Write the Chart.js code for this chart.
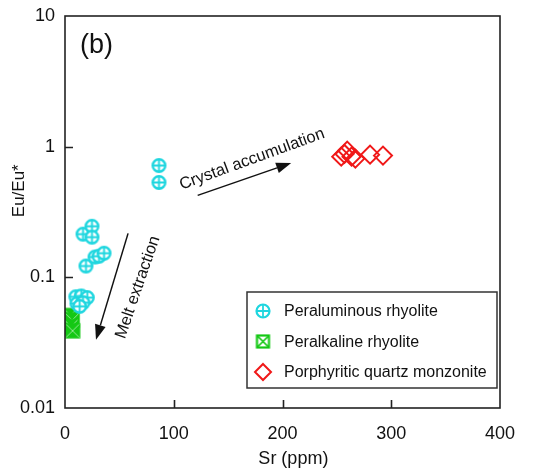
<!DOCTYPE html>
<html>
<head>
<meta charset="utf-8">
<script src="https://cdn.jsdelivr.net/npm/chart.js@4/dist/chart.umd.min.js"></script>
<style>
  html, body { margin: 0; padding: 0; background: #ffffff; }
  #wrap { width: 533px; height: 473px; }
</style>
</head>
<body>
<div id="wrap"><canvas id="c" width="533" height="473"></canvas></div>
<script>
// Sr (ppm) vs Eu/Eu* for the three rock groups
const peraluminousSr  = [86.4, 86.4, 16.6, 24.8, 24.8, 19.3, 27.6, 31.3, 35.9, 10.0, 15.0, 20.5, 11.0, 16.5, 13.5];
const peraluminousEu  = [0.717, 0.532, 0.214, 0.246, 0.203, 0.122, 0.143, 0.145, 0.153, 0.071, 0.072, 0.070, 0.063, 0.064, 0.060];

const peralkalineSr   = [5.0, 6.5, 5.5, 7.0];
const peralkalineEu   = [0.051, 0.047, 0.042, 0.039];

const monzoniteSr     = [254.0, 259.5, 257.0, 263.5, 267.0, 280.5, 292.4];
const monzoniteEu     = [0.839, 0.932, 0.88, 0.839, 0.81, 0.869, 0.854];

const seriesNames = ['Peraluminous rhyolite', 'Peralkaline rhyolite', 'Porphyritic quartz monzonite'];

const yTickValues = [0.01, 0.1, 1, 10];
const yTickLabels = ['0.01', '0.1', '1', '10'];
const xTickValues = [0, 100, 200, 300, 400];

const FONT = '"Liberation Sans", Arial, sans-serif';
const CYAN = '#1ed6df';
const GREEN = '#14c814';
const RED = '#f01818';

// marker sprites
function circleCross(r, lw) {
  const s = Math.ceil(2 * r + lw + 2);
  const cv = document.createElement('canvas');
  cv.width = s; cv.height = s;
  const g = cv.getContext('2d');
  const c = s / 2;
  g.strokeStyle = CYAN; g.fillStyle = '#fff'; g.lineWidth = lw;
  g.beginPath(); g.arc(c, c, r, 0, Math.PI * 2); g.fill(); g.stroke();
  g.lineWidth = lw * 0.8;
  g.beginPath(); g.moveTo(c - r, c); g.lineTo(c + r, c); g.moveTo(c, c - r); g.lineTo(c, c + r); g.stroke();
  return cv;
}
function squareX(h, lw, filled) {
  const s = Math.ceil(2 * h + lw + 2);
  const cv = document.createElement('canvas');
  cv.width = s; cv.height = s;
  const g = cv.getContext('2d');
  const c = s / 2;
  g.strokeStyle = GREEN; g.lineWidth = lw;
  g.fillStyle = filled ? GREEN : '#fff';
  g.fillRect(c - h, c - h, 2 * h, 2 * h);
  g.strokeRect(c - h, c - h, 2 * h, 2 * h);
  g.strokeStyle = filled ? 'rgba(255,255,255,0.55)' : GREEN;
  g.lineWidth = filled ? 1 : lw * 0.8;
  g.beginPath(); g.moveTo(c - h, c - h); g.lineTo(c + h, c + h); g.moveTo(c + h, c - h); g.lineTo(c - h, c + h); g.stroke();
  return cv;
}
const cyanMark = circleCross(6.3, 2.4);
const greenMark = squareX(6.5, 2.4, true);
const cyanLegend = circleCross(6.5, 2.2);
const greenLegend = squareX(6, 2.2, false);

function pts(xs, ys) { return xs.map((x, i) => ({ x: x, y: ys[i] })); }

// text and arrows placed in data units
const panelLabel = { text: '(b)', x: 13.8, y: 5.9 };
const crystalText = { text: 'Crystal accumulation', x: 172, y: 0.80, angle: -20 };
const crystalArrow = { x1: 122, y1: 0.424, x2: 208, y2: 0.75 };
const meltText = { text: 'Melt extraction', x: 67, y: 0.084, angle: -71 };
const meltArrow = { x1: 58, y1: 0.217, x2: 28.5, y2: 0.0333 };

function arrow(ctx, x1, y1, x2, y2) {
  const a = Math.atan2(y2 - y1, x2 - x1);
  const L = 15, W = 5.5;
  const bx = x2 - L * Math.cos(a), by = y2 - L * Math.sin(a);
  ctx.save();
  ctx.strokeStyle = '#111'; ctx.fillStyle = '#111'; ctx.lineWidth = 1.5;
  ctx.beginPath(); ctx.moveTo(x1, y1); ctx.lineTo(bx, by); ctx.stroke();
  ctx.beginPath();
  ctx.moveTo(x2, y2);
  ctx.lineTo(bx + W * Math.sin(a), by - W * Math.cos(a));
  ctx.lineTo(bx - W * Math.sin(a), by + W * Math.cos(a));
  ctx.closePath(); ctx.fill();
  ctx.restore();
}

const decorations = {
  id: 'decorations',
  afterDraw(chart) {
    const ctx = chart.ctx;
    const xs = chart.scales.x, ys = chart.scales.y;
    const a = chart.chartArea;
    ctx.save();
    // frame
    ctx.strokeStyle = '#222'; ctx.lineWidth = 1.6;
    ctx.strokeRect(a.left, a.top, a.right - a.left, a.bottom - a.top);
    // inward tick marks
    ctx.beginPath();
    xTickValues.slice(1, -1).forEach(v => {
      const px = Math.round(xs.getPixelForValue(v)) + 0.5;
      ctx.moveTo(px, a.bottom); ctx.lineTo(px, a.bottom - 8);
    });
    yTickValues.slice(1, -1).forEach(v => {
      const py = Math.round(ys.getPixelForValue(v)) + 0.5;
      ctx.moveTo(a.left, py); ctx.lineTo(a.left + 8, py);
    });
    ctx.stroke();

    // axis titles
    ctx.fillStyle = '#111';
    ctx.font = '18px ' + FONT;
    ctx.textAlign = 'center'; ctx.textBaseline = 'middle';
    ctx.fillText('Sr (ppm)', xs.getPixelForValue(210), 459);
    ctx.save();
    ctx.translate(19, ys.getPixelForValue(0.46));
    ctx.rotate(-Math.PI / 2);
    ctx.font = '17px ' + FONT;
    ctx.fillText('Eu/Eu*', 0, 0);
    ctx.restore();

    // panel letter
    ctx.font = '27px ' + FONT;
    ctx.textAlign = 'left';
    ctx.fillText(panelLabel.text, xs.getPixelForValue(panelLabel.x), ys.getPixelForValue(panelLabel.y));

    // trend annotations
    [crystalText, meltText].forEach(t => {
      ctx.save();
      ctx.translate(xs.getPixelForValue(t.x), ys.getPixelForValue(t.y));
      ctx.rotate(t.angle * Math.PI / 180);
      ctx.font = '16.5px ' + FONT;
      ctx.textAlign = 'center'; ctx.textBaseline = 'middle';
      ctx.fillText(t.text, 0, 0);
      ctx.restore();
    });
    [crystalArrow, meltArrow].forEach(r => {
      arrow(ctx, xs.getPixelForValue(r.x1), ys.getPixelForValue(r.y1),
                 xs.getPixelForValue(r.x2), ys.getPixelForValue(r.y2));
    });

    // legend box
    const bw = 250, bh = 96;
    const bx = a.right - 3 - bw, by = a.bottom - 20 - bh;
    ctx.fillStyle = '#fff';
    ctx.fillRect(bx, by, bw, bh);
    ctx.strokeStyle = '#333'; ctx.lineWidth = 1.5;
    ctx.strokeRect(bx, by, bw, bh);
    ctx.font = '16px ' + FONT;
    ctx.textAlign = 'left'; ctx.textBaseline = 'middle';
    ctx.fillStyle = '#111';
    chart.data.datasets.forEach((ds, i) => {
      const cy = by + 19 + i * 30.5;
      const mx = bx + 16;
      if (i === 0) ctx.drawImage(cyanLegend, mx - cyanLegend.width / 2, cy - cyanLegend.height / 2);
      else if (i === 1) ctx.drawImage(greenLegend, mx - greenLegend.width / 2, cy - greenLegend.height / 2);
      else {
        ctx.save();
        ctx.strokeStyle = RED; ctx.lineWidth = 2;
        ctx.beginPath();
        ctx.moveTo(mx, cy - 8); ctx.lineTo(mx + 8, cy); ctx.lineTo(mx, cy + 8); ctx.lineTo(mx - 8, cy); ctx.closePath();
        ctx.stroke();
        ctx.restore();
      }
      ctx.fillStyle = '#111';
      ctx.fillText(ds.label, bx + 37, cy + 1);
    });
    ctx.restore();
  }
};

new Chart(document.getElementById('c'), {
  type: 'scatter',
  data: {
    datasets: [
      { label: seriesNames[0], data: pts(peraluminousSr, peraluminousEu), pointStyle: cyanMark },
      { label: seriesNames[1], data: pts(peralkalineSr, peralkalineEu), pointStyle: greenMark },
      { label: seriesNames[2], data: pts(monzoniteSr, monzoniteEu), pointStyle: 'rectRot',
        pointRadius: 9, borderColor: RED, backgroundColor: 'rgba(0,0,0,0)', borderWidth: 2 }
    ]
  },
  options: {
    responsive: false,
    devicePixelRatio: 1,
    animation: false,
    layout: { padding: { top: 16, right: 33, left: 0, bottom: 0 } },
    plugins: { legend: { display: false }, tooltip: { enabled: false } },
    elements: { point: { radius: 6 } },
    scales: {
      x: {
        type: 'linear', min: 0, max: 400,
        grid: { display: false, drawTicks: false },
        border: { display: false },
        afterBuildTicks: s => { s.ticks = xTickValues.map(v => ({ value: v })); },
        afterFit: s => { s.height = 65; s.paddingLeft = 0; s.paddingRight = 0; },
        ticks: { padding: 15, color: '#111', font: { family: FONT, size: 18 }, maxRotation: 0 }
      },
      y: {
        type: 'logarithmic', min: 0.01, max: 10,
        grid: { display: false, drawTicks: false },
        border: { display: false },
        afterBuildTicks: s => { s.ticks = yTickValues.map(v => ({ value: v })); },
        afterFit: s => { s.width = 65; s.paddingTop = 0; s.paddingBottom = 0; },
        ticks: {
          padding: 10, color: '#111', font: { family: FONT, size: 18 },
          callback: v => yTickLabels[yTickValues.indexOf(v)] ?? ''
        }
      }
    }
  },
  plugins: [decorations]
});
</script>
</body>
</html>
